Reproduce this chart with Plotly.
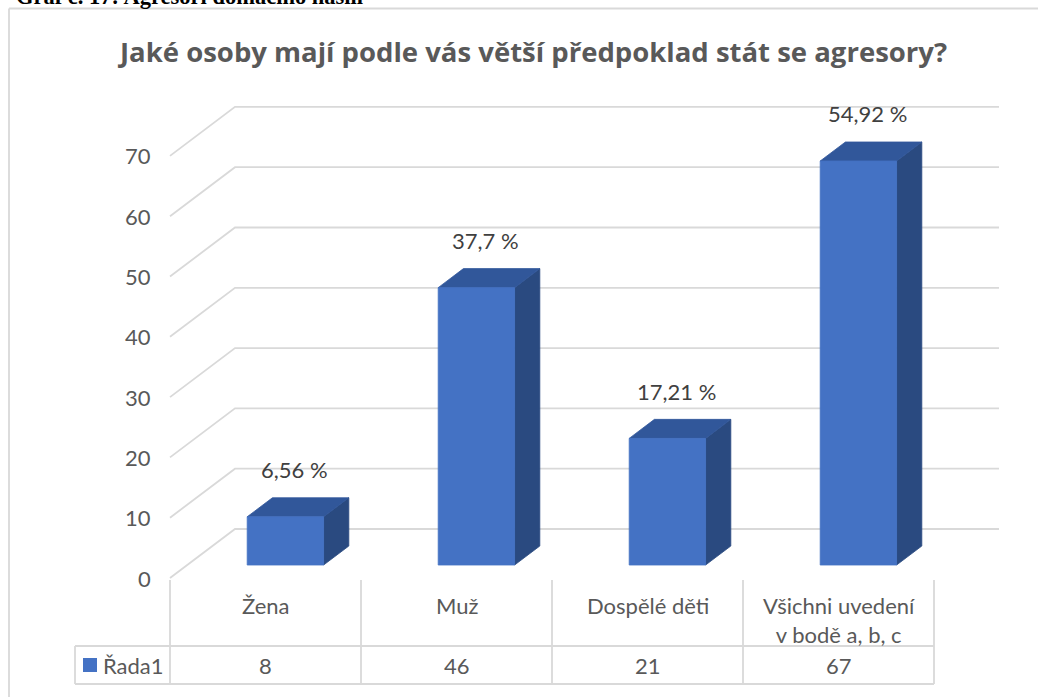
import plotly.graph_objects as go

# ---- data ----
CATEGORIES = ["Žena", "Muž", "Dospělé děti", "Všichni uvedení<br>v bodě a, b, c"]
VALUES = [8, 46, 21, 67]
PERCENT_LABELS = ["6,56 %", "37,7 %", "17,21 %", "54,92 %"]
SERIES_NAME = "Řada1"
Y_TICKS = [0, 10, 20, 30, 40, 50, 60, 70]
TITLE = "Jaké osoby mají podle vás větší předpoklad stát se agresory?"
CAPTION = "Graf č. 17: Agresoři domácího násilí"

# ---- geometry / style ----
W, H = 1038, 697
SLOT_PX = 191.0        # pixels per category slot
UNIT_PX = 6.03         # pixels per value unit
X0_PX, Y0_PX = 170.0, 578.0   # front-left zero corner
DEPTH_DX, DEPTH_DY = 65.0, 49.0
D_FRONT, D_BACK = 0.265, 0.653
BAR_CENTER, BAR_HALF = 0.514, 0.2

FRONT = "#4472C4"
TOP = "#31579A"
SIDE = "#2A4A80"
GRID = "#D9D9D9"
TXT = "#595959"
FONT = "Lato"
FS = 22

def P(xc, v, d):
    return xc + d * DEPTH_DX / SLOT_PX, v + d * DEPTH_DY / UNIT_PX

def px(x):
    return x / W

def py(y):
    return 1 - y / H

fig = go.Figure()

# back-wall gridlines + left-wall diagonals
for v in Y_TICKS:
    a = P(0, v, 0); b = P(0, v, 1); c = P(len(CATEGORIES), v, 1)
    fig.add_trace(go.Scatter(x=[a[0], b[0], c[0]], y=[a[1], b[1], c[1]], mode="lines",
                             line=dict(color=GRID, width=1.8), hoverinfo="skip", showlegend=False))

# 3D bars
for i, val in enumerate(VALUES):
    x0 = i + BAR_CENTER - BAR_HALF
    x1 = i + BAR_CENTER + BAR_HALF
    faces = [
        ([(x1, 0, D_FRONT), (x1, 0, D_BACK), (x1, val, D_BACK), (x1, val, D_FRONT)], SIDE),
        ([(x0, val, D_FRONT), (x1, val, D_FRONT), (x1, val, D_BACK), (x0, val, D_BACK)], TOP),
        ([(x0, 0, D_FRONT), (x1, 0, D_FRONT), (x1, val, D_FRONT), (x0, val, D_FRONT)], FRONT),
    ]
    for pts, col in faces:
        xs, ys = zip(*[P(*p) for p in pts])
        fig.add_trace(go.Scatter(x=list(xs) + [xs[0]], y=list(ys) + [ys[0]], mode="lines",
                                 fill="toself", fillcolor=col, line=dict(color=col, width=0.8),
                                 hoverinfo="skip", showlegend=False))
    lx, _ = P(i + BAR_CENTER, val, D_FRONT)
    _, ly = P(i + BAR_CENTER, val, D_BACK)
    fig.add_annotation(x=lx, y=ly, text=PERCENT_LABELS[i], showarrow=False,
                       xanchor="center", yanchor="middle", xshift=9, yshift=28,
                       font=dict(family=FONT, size=FS, color="#404040"))

# y tick labels at front wall
for v in Y_TICKS:
    tx, ty = P(0, v, 0)
    fig.add_annotation(x=tx, y=ty, text=str(v), showarrow=False, xanchor="right", yanchor="middle",
                       xshift=-17, font=dict(family=FONT, size=FS, color=TXT))

# data table
n = len(CATEGORIES)
tbl_top, tbl_mid, tbl_bot = 580, 646, 684
left_cell = 75
col_edges = [X0_PX + k * SLOT_PX for k in range(n + 1)]
line = dict(color=GRID, width=1.8)
for xe in col_edges:
    fig.add_shape(type="line", xref="paper", yref="paper", x0=px(xe), x1=px(xe),
                  y0=py(tbl_top), y1=py(tbl_bot), line=line)
fig.add_shape(type="line", xref="paper", yref="paper", x0=px(left_cell), x1=px(left_cell),
              y0=py(tbl_mid), y1=py(tbl_bot), line=line)
for yy in (tbl_mid, tbl_bot):
    fig.add_shape(type="line", xref="paper", yref="paper", x0=px(left_cell), x1=px(col_edges[-1]),
                  y0=py(yy), y1=py(yy), line=line)
for k in range(n):
    cx = (col_edges[k] + col_edges[k + 1]) / 2
    fig.add_annotation(xref="paper", yref="paper", x=px(cx), y=py(590), xanchor="center", yanchor="top",
                       text=CATEGORIES[k], showarrow=False, align="center",
                       font=dict(family=FONT, size=FS, color=TXT))
    fig.add_annotation(xref="paper", yref="paper", x=px(cx), y=py(665), xanchor="center", yanchor="middle",
                       text=str(VALUES[k]), showarrow=False,
                       font=dict(family=FONT, size=FS, color=TXT))
# legend key
fig.add_shape(type="rect", xref="paper", yref="paper", x0=px(83), x1=px(97), y0=py(658), y1=py(672),
              fillcolor=FRONT, line=dict(width=0))
fig.add_annotation(xref="paper", yref="paper", x=px(101), y=py(665), xanchor="left", yanchor="middle",
                   text=SERIES_NAME, showarrow=False, font=dict(family=FONT, size=FS, color=TXT))

# frame border (top + left)
fig.add_shape(type="line", xref="paper", yref="paper", x0=px(9), x1=1.0, y0=py(8.5), y1=py(8.5),
              line=dict(color=GRID, width=1.8))
fig.add_shape(type="line", xref="paper", yref="paper", x0=px(9), x1=px(9), y0=py(8.5), y1=0,
              line=dict(color=GRID, width=1.8))

# title and cut-off caption
fig.add_annotation(xref="paper", yref="paper", x=px(532), y=py(52), xanchor="center", yanchor="middle",
                   text="<b>" + TITLE + "</b>", showarrow=False,
                   font=dict(family="Open Sans", size=27.5, color=TXT))
fig.add_annotation(xref="paper", yref="paper", x=px(14), y=py(-3), xanchor="left", yanchor="middle",
                   text="<b>" + CAPTION + "</b>", showarrow=False,
                   font=dict(family="Liberation Serif", size=22.5, color="#000000"))

fig.update_xaxes(range=[-X0_PX / SLOT_PX, (W - X0_PX) / SLOT_PX], visible=False, fixedrange=True)
fig.update_yaxes(range=[(Y0_PX - H) / UNIT_PX, Y0_PX / UNIT_PX], visible=False, fixedrange=True)
fig.update_layout(width=W, height=H, margin=dict(l=0, r=0, t=0, b=0, pad=0),
                  plot_bgcolor="white", paper_bgcolor="white", showlegend=False)

fig.write_html("out.html", config={"displayModeBar": False},
               post_script="document.body.style.margin='0';document.body.style.overflow='hidden';")
